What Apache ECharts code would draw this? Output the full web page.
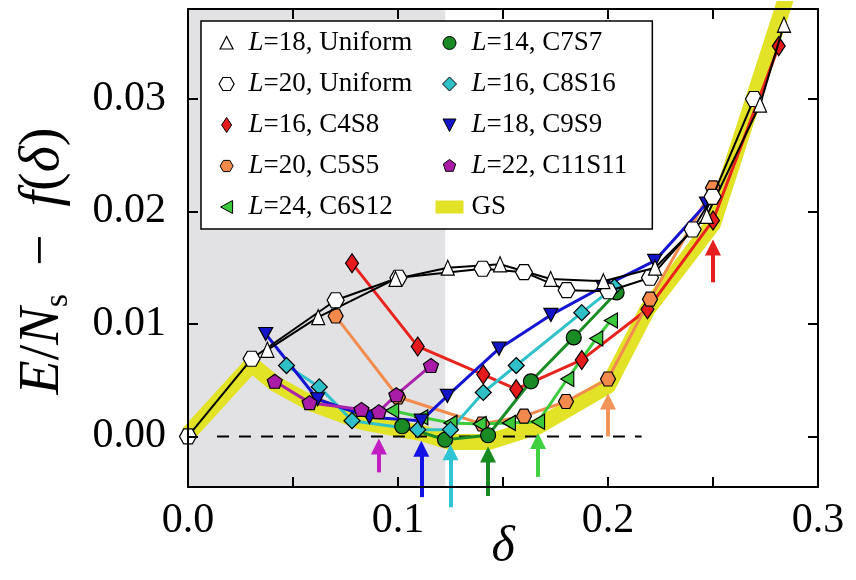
<!DOCTYPE html>
<html>
<head>
<meta charset="utf-8">
<script src="https://cdn.jsdelivr.net/npm/echarts@6/dist/echarts.min.js"></script>
<style>
  html, body { margin: 0; padding: 0; background: #fff; }
  #chart { width: 856px; height: 580px; }
</style>
</head>
<body>
<div id="chart"></div>
<script>
// delta / energy values
const u18X = [0.0378, 0.062, 0.0988, 0.1237, 0.1486, 0.1727, 0.1978, 0.2224, 0.247, 0.2724, 0.2838];
const u18Y = [0.0077, 0.0106, 0.0140, 0.0150, 0.0153, 0.0140, 0.0138, 0.0150, 0.0196, 0.0295, 0.0366];

const u20X = [0, 0.0303, 0.0703, 0.1002, 0.1403, 0.160, 0.1803, 0.2002, 0.22, 0.2403, 0.2498, 0.2695];
const u20Y = [0, 0.0069, 0.0121, 0.0141, 0.0149, 0.0146, 0.0130, 0.0129, 0.0141, 0.0184, 0.0213, 0.0300];

const c4s8X = [0.0781, 0.1094, 0.1406, 0.1563, 0.1875, 0.2188, 0.25, 0.2813];
const c4s8Y = [0.0154, 0.0080, 0.0055, 0.0042, 0.0068, 0.0113, 0.0192, 0.0347];

const c5s5X = [0.0703, 0.10, 0.14, 0.16, 0.18, 0.20, 0.22, 0.25];
const c5s5Y = [0.0107, 0.0035, 0.0011, 0.0018, 0.0031, 0.0051, 0.0122, 0.0221];

const c6s12X = [0.0972, 0.1111, 0.125, 0.1389, 0.1528, 0.1667, 0.1806, 0.1944, 0.2014];
const c6s12Y = [0.0023, 0.0017, 0.0012, 0.0011, 0.0012, 0.0013, 0.0051, 0.0087, 0.0103];

const c7s7X = [0.102, 0.1224, 0.1429, 0.1633, 0.1837, 0.2041];
const c7s7Y = [0.0009, -0.0003, 0.0001, 0.0049, 0.0088, 0.0128];

const c8s16X = [0.0469, 0.0625, 0.0781, 0.1094, 0.125, 0.1406, 0.1563, 0.1875, 0.2031];
const c8s16Y = [0.0063, 0.0044, 0.0014, 0.0006, 0.0006, 0.0039, 0.0063, 0.0110, 0.0133];

const c9s9X = [0.037, 0.0617, 0.0864, 0.1111, 0.1235, 0.1481, 0.1728, 0.1975, 0.2222, 0.2469];
const c9s9Y = [0.0091, 0.0033, 0.0017, 0.0014, 0.0036, 0.0078, 0.0108, 0.0133, 0.0156, 0.0207];

const c11s11X = [0.0413, 0.0579, 0.0826, 0.0909, 0.0992, 0.1157];
const c11s11Y = [0.0049, 0.0030, 0.0024, 0.0022, 0.0037, 0.0063];

const gsX = [0, 0.0303, 0.0413, 0.0579, 0.0826, 0.1111, 0.125, 0.1429, 0.1667, 0.20, 0.2188, 0.25, 0.2857];
const gsY = [0.0002, 0.0064, 0.0047, 0.0030, 0.0013, 0.0003, -0.0005, -0.0005, 0.0009, 0.0045, 0.0113, 0.0189, 0.0395];

// arrows (x, tail y, head y)
const arrowX = [0.0909, 0.1111, 0.125, 0.1429, 0.1667, 0.20, 0.25];
const arrowTail = [-0.0032, -0.0054, -0.0063, -0.0053, -0.0036, 0.0, 0.0137];
const arrowHead = [-0.0009, -0.0011, -0.0014, -0.0016, -0.0004, 0.0031, 0.0168];
const arrowColor = ['#c21fc2', '#1212e6', '#2ec4d4', '#178a22', '#3fd13f', '#f39559', '#e61e1e'];

const zeroLineX = [0.0138, 0.216];
const shadeX = [0, 0.1225];

const FONT = 'Liberation Serif';
const HEX = 'path://M-1,0 L-0.5,-0.866 L0.5,-0.866 L1,0 L0.5,0.866 L-0.5,0.866 Z';
const PENT = 'path://M0,-1 L0.951,-0.309 L0.588,0.809 L-0.588,0.809 L-0.951,-0.309 Z';
const TRI_DOWN = 'path://M-1,-1 L1,-1 L0,1 Z';
const TRI_LEFT = 'path://M1,-1 L1,1 L-1,0 Z';

// legend icons: drawn in pixels inside a 34x15 box (the corner moves fix the box)
const icon = body => 'path://M-17,-7.5 M17,7.5 ' + body;
const LG = {
  triUp: icon('M0,-6.5 L6.5,6 L-6.5,6 Z'),
  hex: icon('M-7.5,0 L-3.75,-6.5 L3.75,-6.5 L7.5,0 L3.75,6.5 L-3.75,6.5 Z'),
  hexSmall: icon('M-6.5,0 L-3.25,-5.6 L3.25,-5.6 L6.5,0 L3.25,5.6 L-3.25,5.6 Z'),
  diaTall: icon('M0,-7.5 L5,0 L0,7.5 L-5,0 Z'),
  dia: icon('M0,-7 L7,0 L0,7 L-7,0 Z'),
  triLeft: icon('M6,-6.5 L6,6.5 L-6,0 Z'),
  circle: icon('M6.5,0 A6.5,6.5 0 1 1 -6.5,0 A6.5,6.5 0 1 1 6.5,0 Z'),
  triDown: icon('M-6.5,-6 L6.5,-6 L0,6.5 Z'),
  pent: icon('M0,-6.5 L6.2,-2 L3.8,5.3 L-3.8,5.3 L-6.2,-2 Z'),
  rect: icon('M-14,-6.5 L14,-6.5 L14,6.5 L-14,6.5 Z')
};

const pts = (xs, ys) => xs.map((x, i) => [x, ys[i]]);

function dataSeries(name, xs, ys, symbol, size, fill, lineColor, lineWidth, z) {
  return {
    name: name,
    type: 'line',
    data: pts(xs, ys),
    symbol: symbol,
    symbolSize: size,
    symbolKeepAspect: false,
    z: z,
    lineStyle: { color: lineColor, width: lineWidth },
    itemStyle: { color: fill, borderColor: '#000', borderWidth: 1.2 }
  };
}

const chart = echarts.init(document.getElementById('chart'));

const legendLeft = [
  { name: 'L=18, Uniform', icon: LG.triUp, itemStyle: { color: '#fff', borderColor: '#000', borderWidth: 1.2 } },
  { name: 'L=20, Uniform', icon: LG.hex, itemStyle: { color: '#fff', borderColor: '#000', borderWidth: 1.2 } },
  { name: 'L=16, C4S8', icon: LG.diaTall, itemStyle: { color: '#e41a1c', borderColor: '#000', borderWidth: 1 } },
  { name: 'L=20, C5S5', icon: LG.hexSmall, itemStyle: { color: '#f38a4c', borderColor: '#000', borderWidth: 1 } },
  { name: 'L=24, C6S12', icon: LG.triLeft, itemStyle: { color: '#3cc83c', borderColor: '#000', borderWidth: 1 } }
];
const legendRight = [
  { name: 'L=14, C7S7', icon: LG.circle, itemStyle: { color: '#1a8a25', borderColor: '#000', borderWidth: 1 } },
  { name: 'L=16, C8S16', icon: LG.dia, itemStyle: { color: '#2fbfc6', borderColor: '#000', borderWidth: 1 } },
  { name: 'L=18, C9S9', icon: LG.triDown, itemStyle: { color: '#1414c8', borderColor: '#000', borderWidth: 1 } },
  { name: 'L=22, C11S11', icon: LG.pent, itemStyle: { color: '#a81ca8', borderColor: '#000', borderWidth: 1 } },
  { name: 'GS', icon: LG.rect, itemStyle: { color: '#e2e226', borderWidth: 0 } }
];

const legendText = {
  fontFamily: FONT,
  fontSize: 27,
  lineHeight: 28,
  color: '#000',
  rich: {
    i: { fontFamily: FONT, fontSize: 27, fontStyle: 'italic', lineHeight: 28, color: '#000' },
    n: { fontFamily: FONT, fontSize: 27, lineHeight: 28, color: '#000' }
  }
};
const legendFormatter = name => name.indexOf('L=') === 0 ? '{i|L}{n|' + name.slice(1) + '}' : '{n|' + name + '}';
const legendCommon = {
  orient: 'vertical',
  itemWidth: 34,
  itemHeight: 15,
  itemGap: 13,
  selectedMode: false,
  textStyle: legendText,
  formatter: legendFormatter
};

const axisLine = { show: true, onZero: false, lineStyle: { color: '#000', width: 2 } };
const axisTick = { show: true, inside: true, length: 10, lineStyle: { color: '#000', width: 2 } };

chart.setOption({
  animation: false,
  backgroundColor: '#fff',
  grid: { left: 188, right: 38, top: 9, bottom: 93, containLabel: false, outerBoundsMode: 'none' },
  legend: [
    Object.assign({}, legendCommon, {
      left: 201, top: 21,
      padding: [8, 240, 8, 8],
      backgroundColor: '#fff', borderColor: '#000', borderWidth: 1.5,
      data: legendLeft
    }),
    Object.assign({}, legendCommon, {
      left: 432, top: 29,
      padding: 0,
      z: 6,
      data: legendRight
    })
  ],
  xAxis: [
    {
      type: 'value', min: 0, max: 0.3, interval: 0.05, position: 'bottom', z: 10,
      axisLine: axisLine, axisTick: axisTick, splitLine: { show: false },
      axisLabel: {
        fontFamily: FONT, fontSize: 42, color: '#000', margin: 13,
        formatter: v => (Math.round(v / 0.05) % 2 === 0 ? v.toFixed(1) : '')
      },
      name: 'δ', nameLocation: 'middle', nameGap: 36, nameMoveOverlap: false,
      nameTextStyle: { fontFamily: FONT, fontStyle: 'italic', fontSize: 50, color: '#000' }
    },
    {
      type: 'value', min: 0, max: 0.3, interval: 0.05, position: 'top', z: 10,
      axisLine: axisLine, axisTick: axisTick, splitLine: { show: false },
      axisLabel: { show: false }
    }
  ],
  yAxis: [
    {
      type: 'value', min: -0.0045, max: 0.038, minInterval: 0.01, maxInterval: 0.01, position: 'left', z: 10,
      axisLine: axisLine, axisTick: axisTick, splitLine: { show: false },
      axisLabel: {
        fontFamily: FONT, fontSize: 42, color: '#000', margin: 22,
        showMinLabel: false, showMaxLabel: false,
        formatter: v => (Math.abs(v * 100 - Math.round(v * 100)) < 1e-6 ? v.toFixed(2) : '')
      },
      name: '{i|E}{n|/}{i|N}{sub|s}{m|−}{i|f}{n|(}{i|δ}{n|)}{gap| }',
      nameLocation: 'middle', nameGap: 113, nameRotate: 90,
      nameTextStyle: {
        rich: {
          i: { fontFamily: FONT, fontStyle: 'italic', fontSize: 56, lineHeight: 64, color: '#000' },
          n: { fontFamily: FONT, fontSize: 56, lineHeight: 64, color: '#000' },
          m: { fontFamily: FONT, fontSize: 56, lineHeight: 64, color: '#000', padding: [0, 28, 0, 28] },
          sub: { fontFamily: FONT, fontSize: 34, lineHeight: 34, verticalAlign: 'bottom', color: '#000' },
          gap: { fontFamily: FONT, fontSize: 56, lineHeight: 64, width: 26 }
        }
      }
    },
    {
      type: 'value', min: -0.0045, max: 0.038, minInterval: 0.01, maxInterval: 0.01, position: 'right', z: 10,
      axisLine: axisLine, axisTick: axisTick, splitLine: { show: false },
      axisLabel: { show: false }
    }
  ],
  series: [
    {
      name: 'zero',
      type: 'line',
      data: pts(zeroLineX, [0, 0]),
      symbol: 'none',
      z: 3,
      lineStyle: { color: '#000', width: 2, type: [12, 10] },
      markArea: {
        silent: true,
        itemStyle: { color: '#e2e2e4' },
        data: [[{ xAxis: shadeX[0] }, { xAxis: shadeX[1] }]]
      }
    },
    {
      name: 'GS',
      type: 'line',
      data: pts(gsX, gsY),
      symbol: 'none',
      z: 2,
      lineStyle: { color: '#e2e226', width: 16, join: 'round' },
      itemStyle: { color: '#e2e226' }
    },
    dataSeries('L=16, C4S8', c4s8X, c4s8Y, 'diamond', [13, 19], '#e41a1c', '#e8231d', 3, 4),
    dataSeries('L=20, C5S5', c5s5X, c5s5Y, HEX, [15, 14], '#f38a4c', '#f28c4e', 3, 4),
    dataSeries('L=24, C6S12', c6s12X, c6s12Y, TRI_LEFT, [13, 15], '#3cc83c', '#3ccc3c', 3, 4),
    dataSeries('L=14, C7S7', c7s7X, c7s7Y, 'circle', 15, '#1a8a25', '#1c8c26', 3, 4),
    dataSeries('L=16, C8S16', c8s16X, c8s16Y, 'diamond', [16, 16], '#2fbfc6', '#2fc2c8', 3, 4),
    dataSeries('L=18, C9S9', c9s9X, c9s9Y, TRI_DOWN, [14, 13], '#1414c8', '#1414d2', 3, 4),
    dataSeries('L=22, C11S11', c11s11X, c11s11Y, PENT, [15, 14], '#a81ca8', '#ab22ab', 3, 4),
    dataSeries('L=20, Uniform', u20X, u20Y, HEX, [17, 15], '#fff', '#000', 2, 5),
    dataSeries('L=18, Uniform', u18X, u18Y, 'triangle', [13, 15], '#fff', '#000', 2, 5),
    {
      name: 'arrows',
      type: 'lines',
      coordinateSystem: 'cartesian2d',
      clip: false,
      z: 9,
      symbol: ['none', 'triangle'],
      symbolSize: [0, 16],
      lineStyle: { width: 4, opacity: 1, curveness: 0 },
      data: arrowX.map((x, i) => ({
        coords: [[x, arrowTail[i]], [x, arrowHead[i]]],
        lineStyle: { color: arrowColor[i] }
      }))
    }
  ]
});
</script>
</body>
</html>
